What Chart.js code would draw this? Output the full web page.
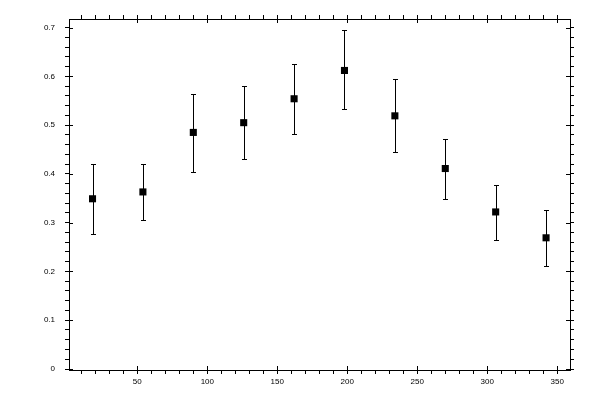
<!DOCTYPE html>
<html>
<head>
<meta charset="utf-8">
<script src="https://cdn.jsdelivr.net/npm/chart.js@4/dist/chart.umd.min.js"></script>
<style>
  html, body { margin: 0; padding: 0; background: #fff; }
  #wrap { width: 600px; height: 400px; }
</style>
</head>
<body>
<div id="wrap"><canvas id="c" width="600" height="400"></canvas></div>
<script>
// ---- data ----
const xValues   = [18, 54, 90, 126, 162, 198, 234, 270, 306, 342];
const yValues   = [0.349, 0.363, 0.485, 0.505, 0.554, 0.612, 0.519, 0.411, 0.322, 0.269];
const errHigh   = [0.420, 0.420, 0.564, 0.580, 0.626, 0.694, 0.595, 0.472, 0.378, 0.326];
const errLow    = [0.277, 0.306, 0.404, 0.431, 0.482, 0.532, 0.445, 0.349, 0.265, 0.212];
const xMajorStep = 50;
const yMajorStep = 0.1;

const points = xValues.map((x, i) => ({ x: x, y: yValues[i] }));

function isMajor(v, step) {
  const r = v / step;
  return Math.abs(r - Math.round(r)) < 1e-6;
}

const errorBars = {
  id: 'errorBars',
  beforeDatasetsDraw(chart) {
    const ctx = chart.ctx;
    const x = chart.scales.x, y = chart.scales.y;
    ctx.save();
    ctx.strokeStyle = '#000';
    ctx.lineWidth = 1;
    xValues.forEach((xv, i) => {
      const px = Math.round(x.getPixelForValue(xv)) + 0.5;
      const pt = Math.round(y.getPixelForValue(errHigh[i])) + 0.5;
      const pb = Math.round(y.getPixelForValue(errLow[i])) + 0.5;
      ctx.beginPath();
      ctx.moveTo(px, pt); ctx.lineTo(px, pb);
      ctx.moveTo(px - 2.5, pt); ctx.lineTo(px + 2.5, pt);
      ctx.moveTo(px - 2.5, pb); ctx.lineTo(px + 2.5, pb);
      ctx.stroke();
    });
    ctx.restore();
  }
};

const innerMajorTicks = {
  id: 'innerMajorTicks',
  afterDraw(chart) {
    const ctx = chart.ctx;
    const a = chart.chartArea;
    const L = 4;
    ctx.save();
    ctx.strokeStyle = '#000';
    ctx.lineWidth = 1;
    ctx.beginPath();
    ['x', 'x2'].forEach(id => {
      const s = chart.scales[id];
      s.ticks.forEach(t => {
        if (!isMajor(t.value, xMajorStep)) return;
        const px = Math.round(s.getPixelForValue(t.value)) + 0.5;
        if (id === 'x') { ctx.moveTo(px, a.bottom); ctx.lineTo(px, a.bottom - L); }
        else { ctx.moveTo(px, a.top); ctx.lineTo(px, a.top + L); }
      });
    });
    ['y', 'y2'].forEach(id => {
      const s = chart.scales[id];
      s.ticks.forEach(t => {
        if (!isMajor(t.value, yMajorStep)) return;
        const py = Math.round(s.getPixelForValue(t.value)) + 0.5;
        if (id === 'y') { ctx.moveTo(a.left, py); ctx.lineTo(a.left + L, py); }
        else { ctx.moveTo(a.right, py); ctx.lineTo(a.right - L, py); }
      });
    });
    ctx.stroke();
    ctx.restore();
  }
};

Chart.defaults.font.family = "'Liberation Sans', Arial, sans-serif";
Chart.defaults.font.size = 8;
Chart.defaults.color = '#000';

const X_MIN = 1.2, X_MAX = 359.1, Y_MIN = -0.002, Y_MAX = 0.7175;

function gridOpts() {
  return { drawOnChartArea: false, drawTicks: true, tickLength: 4, color: '#000', tickWidth: 1, lineWidth: 1 };
}
function borderOpts() {
  return { display: true, color: '#000', width: 1 };
}

new Chart(document.getElementById('c'), {
  type: 'scatter',
  data: {
    datasets: [{
      data: points,
      pointStyle: 'rect',
      pointRadius: 5,
      pointHoverRadius: 5,
      pointBackgroundColor: '#000',
      pointBorderColor: '#000',
      pointBorderWidth: 0,
      showLine: false
    }]
  },
  options: {
    responsive: false,
    devicePixelRatio: 1,
    animation: false,
    events: [],
    layout: { padding: 0 },
    plugins: { legend: { display: false }, tooltip: { enabled: false } },
    scales: {
      x: {
        type: 'linear', position: 'bottom', min: X_MIN, max: X_MAX,
        grid: gridOpts(), border: borderOpts(),
        ticks: {
          stepSize: 10, includeBounds: false, autoSkip: false, maxRotation: 0, padding: 3,
          callback: v => isMajor(v, xMajorStep) ? String(Math.round(v)) : ''
        },
        afterFit: s => { s.height = 30; }
      },
      x2: {
        type: 'linear', position: 'top', min: X_MIN, max: X_MAX,
        grid: gridOpts(), border: borderOpts(),
        ticks: { stepSize: 10, includeBounds: false, autoSkip: false, maxRotation: 0, callback: () => '' },
        afterFit: s => { s.height = 19; }
      },
      y: {
        type: 'linear', position: 'left', min: Y_MIN, max: Y_MAX,
        grid: gridOpts(), border: borderOpts(),
        ticks: {
          stepSize: 0.02, includeBounds: false, autoSkip: false, padding: 10,
          callback: v => {
            if (!isMajor(v, yMajorStep)) return '';
            const r = Math.round(v * 10) / 10;
            return r === 0 ? '0' : r.toFixed(1);
          }
        },
        afterFit: s => { s.width = 69; }
      },
      y2: {
        type: 'linear', position: 'right', min: Y_MIN, max: Y_MAX,
        grid: gridOpts(), border: borderOpts(),
        ticks: { stepSize: 0.02, includeBounds: false, autoSkip: false, callback: () => '' },
        afterFit: s => { s.width = 30; }
      }
    }
  },
  plugins: [errorBars, innerMajorTicks]
});
</script>
</body>
</html>
